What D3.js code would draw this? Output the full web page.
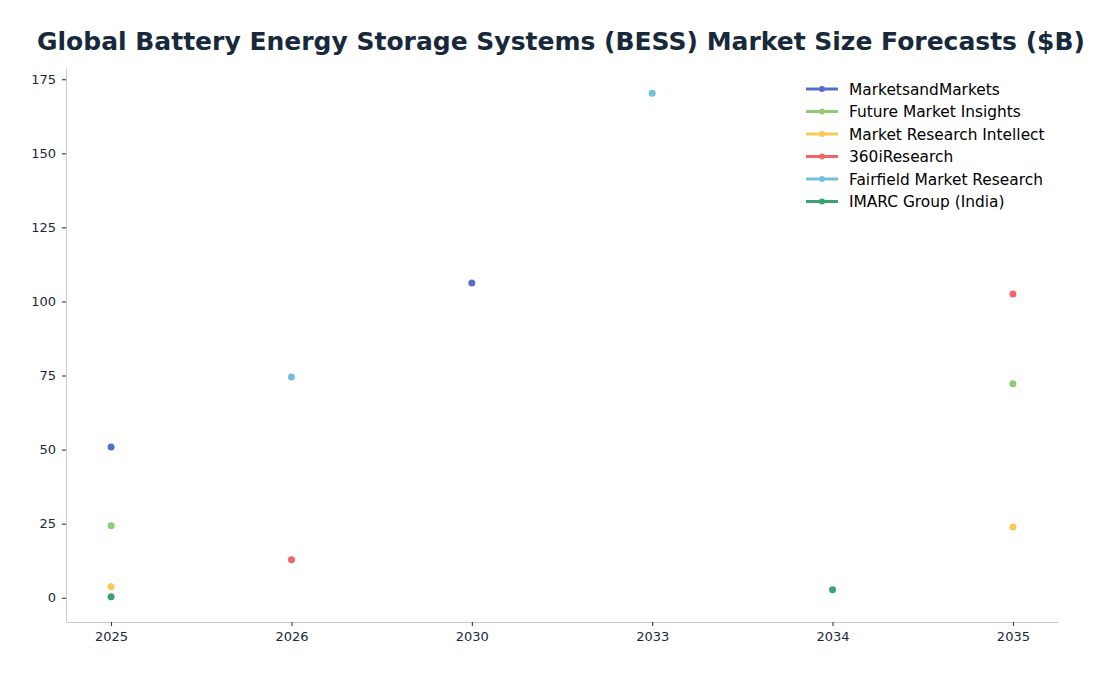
<!DOCTYPE html>
<html>
<head>
<meta charset="utf-8">
<script src="https://cdn.jsdelivr.net/npm/d3@7"></script>
<style>
  body { margin: 0; background: #fff; }
  svg { font-family: "DejaVu Sans", sans-serif; }
</style>
</head>
<body>
<div id="main"></div>
<script>
const width = 1116;
const height = 676;

const years = ["2025", "2026", "2030", "2033", "2034", "2035"];

const seriesNames = [
  "MarketsandMarkets",
  "Future Market Insights",
  "Market Research Intellect",
  "360iResearch",
  "Fairfield Market Research",
  "IMARC Group (India)",
];

const colorsArray = ["#5470c6", "#91cc75", "#fac858", "#ee6666", "#73c0de", "#3ba272"];

// one value per year, null where the source gives no forecast
const marketsandMarkets = [50.9, null, 106.2, null, null, null];
const futureMarketInsights = [24.3, null, null, null, null, 72.2];
const marketResearchIntellect = [3.7, null, null, null, null, 23.9];
const research360i = [null, 12.8, null, null, null, 102.5];
const fairfield = [null, 74.5, null, 170.3, null, null];
const imarc = [0.3, null, null, null, 2.7, null];

const seriesValues = [
  marketsandMarkets,
  futureMarketInsights,
  marketResearchIntellect,
  research360i,
  fairfield,
  imarc,
];

const yTicks = [0, 25, 50, 75, 100, 125, 150, 175];

const margin = { top: 68, right: 58, bottom: 54, left: 66 };

const svg = d3.select("#main").append("svg").attr("width", width).attr("height", height);

svg
  .append("text")
  .attr("x", 561)
  .attr("y", 50)
  .attr("text-anchor", "middle")
  .text("Global Battery Energy Storage Systems (BESS) Market Size Forecasts ($B)")
  .style("font-size", "25px")
  .style("font-weight", "bold")
  .style("fill", "#17293a");

const x = d3
  .scalePoint()
  .domain(years)
  .range([margin.left, width - margin.right])
  .padding(0.25);

const allValues = seriesValues.flat().filter((v) => v !== null);
const minV = d3.min(allValues);
const maxV = d3.max(allValues);
const pad = (maxV - minV) * 0.05;

const y = d3
  .scaleLinear()
  .domain([minV - pad, maxV + pad])
  .range([height - margin.bottom, margin.top]);

const xAxis = svg
  .append("g")
  .attr("transform", `translate(0, ${height - margin.bottom})`)
  .call(d3.axisBottom(x).tickSize(4).tickPadding(6).tickSizeOuter(0));

const yAxis = svg
  .append("g")
  .attr("transform", `translate(${margin.left}, 0)`)
  .call(d3.axisLeft(y).tickValues(yTicks).tickSize(4).tickPadding(6).tickSizeOuter(0));

[xAxis, yAxis].forEach((axis) => {
  axis.select(".domain").attr("stroke", "#c8ccd0").attr("stroke-width", 1);
  axis.selectAll(".tick line").attr("stroke", "#17293a").attr("stroke-width", 1);
  axis
    .selectAll(".tick text")
    .style("font-size", "13px")
    .style("font-family", "DejaVu Sans, sans-serif")
    .style("fill", "#17293a");
});

seriesValues.forEach((values, i) => {
  const line = d3
    .line()
    .defined((d) => d !== null)
    .x((d, j) => x(years[j]))
    .y((d) => y(d));

  // segments only exist between neighbouring years with data
  svg
    .append("path")
    .datum(values)
    .attr("fill", "none")
    .attr("stroke", colorsArray[i])
    .attr("stroke-width", 2.5)
    .attr("d", line);

  svg
    .selectAll(null)
    .data(values.map((v, j) => ({ year: years[j], value: v })).filter((d) => d.value !== null))
    .enter()
    .append("circle")
    .attr("cx", (d) => x(d.year))
    .attr("cy", (d) => y(d.value))
    .attr("r", 3.5)
    .attr("fill", colorsArray[i]);
});

const legend = svg.append("g").attr("transform", "translate(806, 89)");

seriesNames.forEach((name, i) => {
  const row = legend.append("g").attr("transform", `translate(0, ${i * 22.5})`);
  row
    .append("line")
    .attr("x1", 0)
    .attr("x2", 32)
    .attr("stroke", colorsArray[i])
    .attr("stroke-width", 3);
  row.append("circle").attr("cx", 16).attr("r", 3).attr("fill", colorsArray[i]);
  row
    .append("text")
    .attr("x", 43)
    .attr("y", 5.5)
    .text(name)
    .style("font-size", "15.4px")
    .style("fill", "#000");
});
</script>
</body>
</html>
